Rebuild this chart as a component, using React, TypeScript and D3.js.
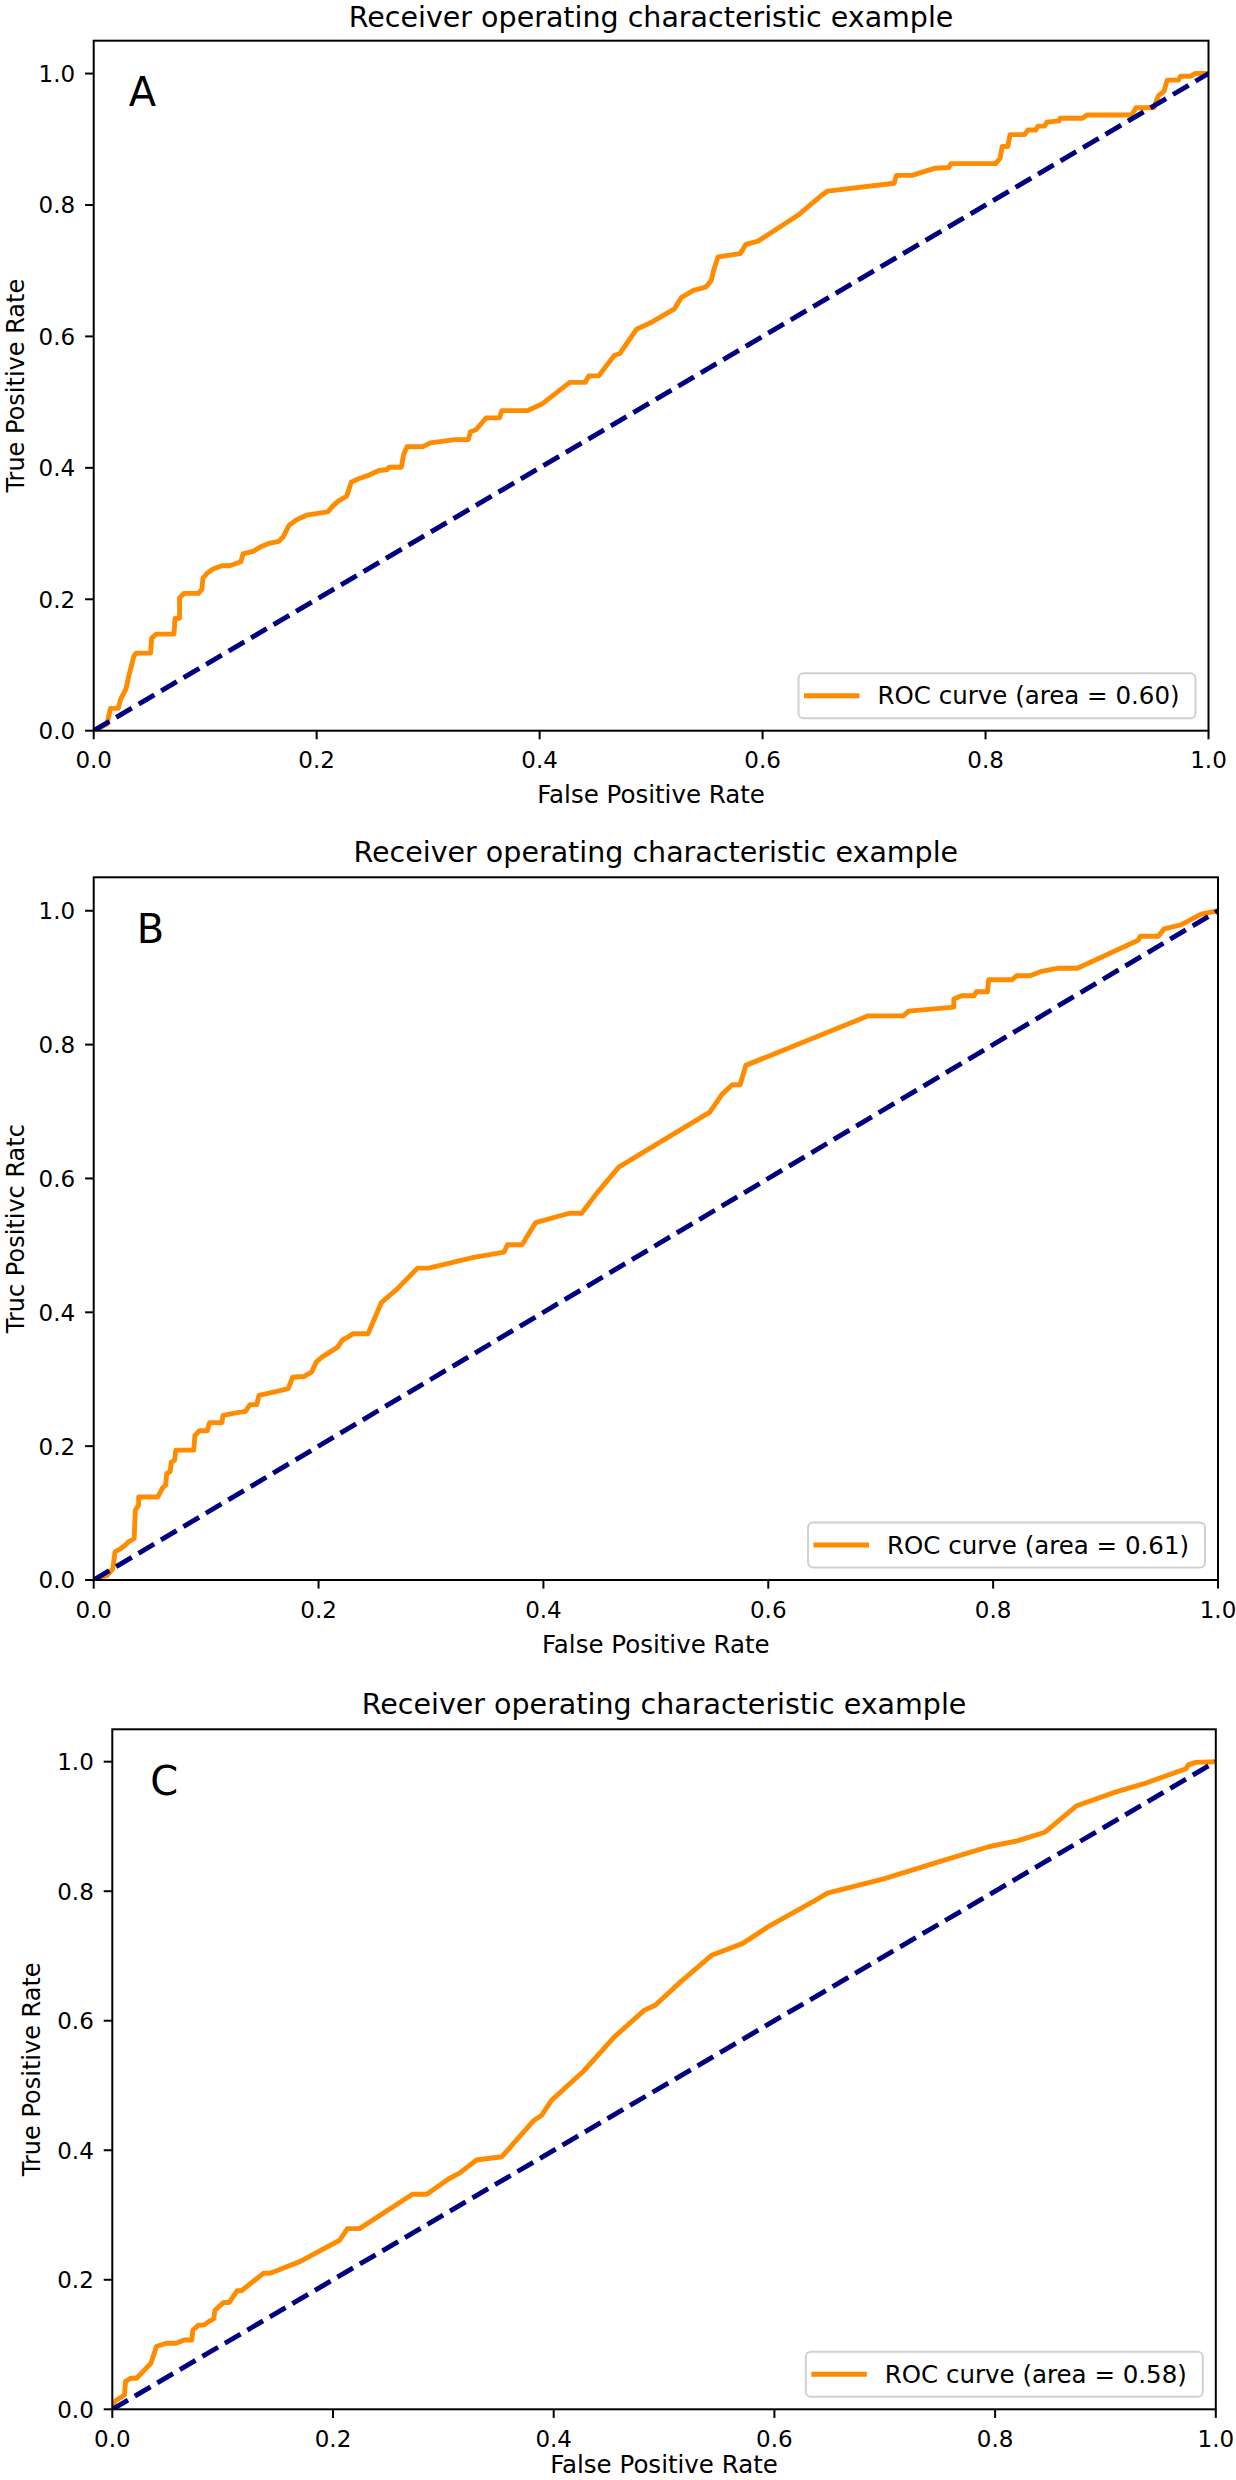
import React from 'react';
import * as d3 from 'd3';

// ---------- DATA ----------
const fprA = [0, 0.012, 0.015, 0.022, 0.024, 0.029, 0.032, 0.036, 0.038, 0.051, 0.052, 0.056, 0.072, 0.073, 0.077, 0.077, 0.081, 0.094, 0.097, 0.098, 0.102, 0.107, 0.115, 0.122, 0.132, 0.134, 0.143, 0.150, 0.157, 0.166, 0.170, 0.175, 0.182, 0.191, 0.210, 0.214, 0.219, 0.227, 0.231, 0.237, 0.247, 0.256, 0.263, 0.265, 0.276, 0.278, 0.281, 0.295, 0.302, 0.324, 0.336, 0.338, 0.343, 0.352, 0.364, 0.366, 0.389, 0.402, 0.427, 0.441, 0.444, 0.453, 0.467, 0.472, 0.487, 0.501, 0.521, 0.527, 0.538, 0.549, 0.554, 0.556, 0.560, 0.580, 0.585, 0.596, 0.633, 0.654, 0.658, 0.718, 0.720, 0.734, 0.755, 0.767, 0.769, 0.809, 0.813, 0.815, 0.820, 0.822, 0.835, 0.838, 0.845, 0.847, 0.853, 0.855, 0.866, 0.867, 0.887, 0.891, 0.931, 0.935, 0.951, 0.955, 0.960, 0.963, 0.973, 0.975, 0.984, 0.988, 1.0];
const tprA = [0, 0.010, 0.034, 0.034, 0.047, 0.064, 0.087, 0.113, 0.118, 0.118, 0.141, 0.147, 0.147, 0.171, 0.171, 0.202, 0.209, 0.209, 0.215, 0.232, 0.240, 0.246, 0.251, 0.251, 0.257, 0.269, 0.273, 0.280, 0.285, 0.288, 0.295, 0.312, 0.321, 0.328, 0.333, 0.341, 0.349, 0.357, 0.378, 0.383, 0.389, 0.396, 0.397, 0.401, 0.401, 0.420, 0.432, 0.432, 0.438, 0.443, 0.443, 0.455, 0.458, 0.476, 0.476, 0.487, 0.487, 0.497, 0.530, 0.530, 0.540, 0.540, 0.571, 0.574, 0.611, 0.622, 0.642, 0.659, 0.670, 0.675, 0.685, 0.700, 0.721, 0.726, 0.740, 0.745, 0.786, 0.816, 0.821, 0.833, 0.845, 0.845, 0.856, 0.857, 0.863, 0.863, 0.871, 0.889, 0.889, 0.907, 0.907, 0.914, 0.914, 0.920, 0.920, 0.926, 0.928, 0.932, 0.932, 0.937, 0.937, 0.948, 0.948, 0.966, 0.973, 0.990, 0.990, 0.996, 0.996, 1.0, 1.0];

const fprB = [0, 0.012, 0.017, 0.019, 0.024, 0.028, 0.031, 0.036, 0.037, 0.040, 0.040, 0.057, 0.061, 0.064, 0.065, 0.068, 0.069, 0.072, 0.073, 0.089, 0.090, 0.094, 0.101, 0.103, 0.114, 0.115, 0.124, 0.135, 0.139, 0.145, 0.147, 0.163, 0.173, 0.177, 0.187, 0.194, 0.198, 0.203, 0.217, 0.221, 0.231, 0.244, 0.256, 0.270, 0.288, 0.298, 0.338, 0.365, 0.368, 0.381, 0.393, 0.423, 0.434, 0.447, 0.467, 0.548, 0.559, 0.568, 0.575, 0.580, 0.689, 0.720, 0.725, 0.765, 0.765, 0.772, 0.783, 0.785, 0.795, 0.796, 0.817, 0.821, 0.833, 0.842, 0.857, 0.875, 0.929, 0.931, 0.947, 0.952, 0.967, 0.985, 1.0];
const tprB = [0, 0.007, 0.017, 0.042, 0.047, 0.052, 0.057, 0.062, 0.104, 0.112, 0.124, 0.124, 0.137, 0.142, 0.159, 0.162, 0.176, 0.179, 0.194, 0.194, 0.216, 0.223, 0.223, 0.235, 0.235, 0.246, 0.249, 0.252, 0.262, 0.262, 0.276, 0.282, 0.286, 0.303, 0.304, 0.311, 0.326, 0.333, 0.348, 0.358, 0.368, 0.368, 0.415, 0.435, 0.466, 0.466, 0.482, 0.490, 0.501, 0.501, 0.534, 0.548, 0.548, 0.577, 0.617, 0.699, 0.726, 0.740, 0.740, 0.769, 0.843, 0.843, 0.850, 0.856, 0.868, 0.873, 0.873, 0.879, 0.879, 0.897, 0.897, 0.903, 0.903, 0.909, 0.914, 0.914, 0.956, 0.962, 0.962, 0.973, 0.979, 0.995, 1.0];

const fprC = [0, 0.002, 0.011, 0.012, 0.017, 0.022, 0.035, 0.040, 0.049, 0.058, 0.065, 0.072, 0.073, 0.078, 0.083, 0.087, 0.092, 0.093, 0.101, 0.106, 0.113, 0.117, 0.137, 0.143, 0.170, 0.206, 0.213, 0.224, 0.272, 0.285, 0.305, 0.315, 0.330, 0.353, 0.382, 0.389, 0.398, 0.427, 0.455, 0.482, 0.492, 0.515, 0.543, 0.571, 0.596, 0.637, 0.648, 0.699, 0.754, 0.795, 0.821, 0.845, 0.874, 0.909, 0.935, 0.973, 0.975, 0.982, 1.0];
const tprC = [0, 0.012, 0.022, 0.043, 0.048, 0.048, 0.071, 0.097, 0.102, 0.102, 0.107, 0.107, 0.122, 0.130, 0.130, 0.135, 0.140, 0.153, 0.165, 0.165, 0.183, 0.183, 0.210, 0.210, 0.228, 0.261, 0.279, 0.279, 0.332, 0.332, 0.356, 0.365, 0.385, 0.390, 0.446, 0.454, 0.477, 0.522, 0.575, 0.616, 0.624, 0.660, 0.701, 0.719, 0.747, 0.786, 0.797, 0.819, 0.848, 0.869, 0.878, 0.891, 0.932, 0.953, 0.966, 0.989, 0.995, 0.999, 1.0];

const diagX = [0, 1];
const diagY = [0, 1];

const tickValues = [0, 0.2, 0.4, 0.6, 0.8, 1.0];
const tickLabels = ['0.0', '0.2', '0.4', '0.6', '0.8', '1.0'];
const panelLetters = ['A', 'B', 'C'];
const titles = ['Receiver operating characteristic example', 'Receiver operating characteristic example', 'Receiver operating characteristic example'];
const xLabels = ['False Positive Rate', 'False Positive Rate', 'False Positive Rate'];
const yLabels = ['True Positive Rate', 'Truc Positivc Ratc', 'True Positive Rate'];
const legendLabels = ['ROC curve (area = 0.60)', 'ROC curve (area = 0.61)', 'ROC curve (area = 0.58)'];
const seriesX = [fprA, fprB, fprC];
const seriesY = [tprA, tprB, tprC];

// ---------- LAYOUT ----------
const layouts = [
  { left: 93.7, right: 1208.5, top: 40.7, bottom: 730.7, letterDx: 35, ylabelX: 23.5, titleDy: 14, xlabelDy: 72.5 },
  { left: 93.7, right: 1218, top: 877.3, bottom: 1580, letterDx: 43, ylabelX: 23.5, titleDy: 15.7, xlabelDy: 72.5 },
  { left: 112.3, right: 1215.8, top: 1729.3, bottom: 2409.3, letterDx: 38, ylabelX: 39.5, titleDy: 15.7, xlabelDy: 64 },
];

const FONT = '"DejaVu Sans", Verdana, sans-serif';
const ORANGE = '#ff8c00';
const NAVY = '#000080';
const LW = 4.9;

function Panel({ i }: { i: number }) {
  const L = layouts[i];
  const x = d3.scaleLinear().domain([0, 1]).range([L.left, L.right]);
  const y = d3.scaleLinear().domain([0, 1.05]).range([L.bottom, L.top]);
  const pts: [number, number][] = seriesX[i].map((v, k) => [v, seriesY[i][k]]);
  const diag: [number, number][] = diagX.map((v, k) => [v, diagY[k]]);
  const line = d3.line<[number, number]>().x(d => x(d[0])).y(d => y(d[1]));
  const clipId = `clip${i}`;
  const cx = (L.left + L.right) / 2;
  const cy = (L.top + L.bottom) / 2;
  const legW = 397, legH = 45;
  const legX = L.right - 13 - legW;
  const legY = L.bottom - 12.5 - legH;
  const legCy = legY + legH / 2;
  return (
    <g>
      <defs>
        <clipPath id={clipId}>
          <rect x={L.left} y={L.top} width={L.right - L.left} height={L.bottom - L.top} />
        </clipPath>
      </defs>
      <text x={cx} y={L.top - L.titleDy} textAnchor="middle" fontSize={28.5} fontFamily={FONT} fill="#000">{titles[i]}</text>
      <g clipPath={`url(#${clipId})`}>
        <path d={line(pts) || ''} fill="none" stroke={ORANGE} strokeWidth={LW} strokeLinejoin="round" />
        <path d={line(diag) || ''} fill="none" stroke={NAVY} strokeWidth={LW} strokeDasharray="18.2,7.9" />
      </g>
      <rect x={L.left} y={L.top} width={L.right - L.left} height={L.bottom - L.top} fill="none" stroke="#000" strokeWidth={2} />
      {tickValues.map((t, k) => (
        <g key={'xt' + k}>
          <line x1={x(t)} x2={x(t)} y1={L.bottom} y2={L.bottom + 8.6} stroke="#000" strokeWidth={2} />
          <text x={x(t)} y={L.bottom + 37.5} textAnchor="middle" fontSize={23} fontFamily={FONT} fill="#000">{tickLabels[k]}</text>
        </g>
      ))}
      {tickValues.map((t, k) => (
        <g key={'yt' + k}>
          <line x1={L.left - 8.6} x2={L.left} y1={y(t)} y2={y(t)} stroke="#000" strokeWidth={2} />
          <text x={L.left - 18.5} y={y(t) + 8.4} textAnchor="end" fontSize={23} fontFamily={FONT} fill="#000">{tickLabels[k]}</text>
        </g>
      ))}
      <text x={cx} y={L.bottom + L.xlabelDy} textAnchor="middle" fontSize={24.5} fontFamily={FONT} fill="#000">{xLabels[i]}</text>
      <text transform={`translate(${L.ylabelX},${cy}) rotate(-90)`} textAnchor="middle" fontSize={24} fontFamily={FONT} fill="#000">{yLabels[i]}</text>
      <text x={L.left + L.letterDx} y={L.top + 65.5} fontSize={40} fontFamily={FONT} fill="#000">{panelLetters[i]}</text>
      <g>
        <rect x={legX} y={legY} width={legW} height={legH} rx={5} ry={5} fill="#fff" fillOpacity={0.8} stroke="#d0d0d0" strokeWidth={2} />
        <line x1={legX + 5.5} x2={legX + 61} y1={legCy} y2={legCy} stroke={ORANGE} strokeWidth={LW} />
        <text x={legX + 79} y={legCy + 8.6} fontSize={24.5} fontFamily={FONT} fill="#000">{legendLabels[i]}</text>
      </g>
    </g>
  );
}

export default function App() {
  return (
    <svg width={1236} height={2480} viewBox="0 0 1236 2480" style={{ position: 'absolute', left: 0, top: 0, background: '#fff' }}>
      <rect x={0} y={0} width={1236} height={2480} fill="#fff" />
      {[0, 1, 2].map(i => <Panel key={i} i={i} />)}
    </svg>
  );
}
